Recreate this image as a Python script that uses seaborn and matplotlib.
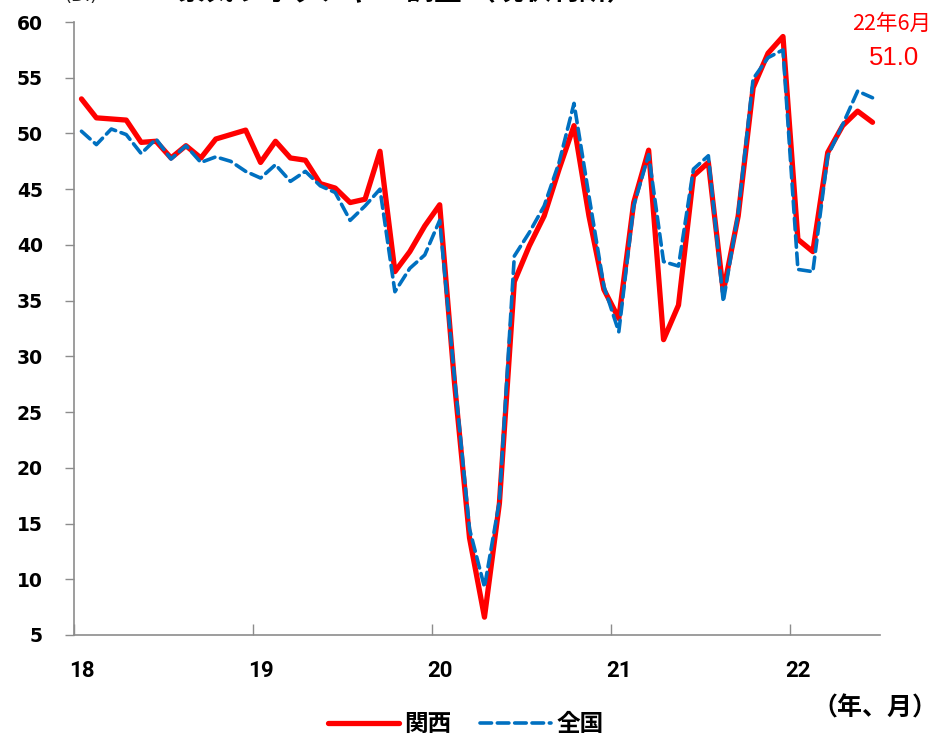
import numpy as np
import pandas as pd
import matplotlib
matplotlib.use("Agg")
import matplotlib.pyplot as plt
import seaborn as sns
from matplotlib.lines import Line2D

# ---- data (monthly, 2018-01 .. 2022-06) ----
months = pd.period_range("2018-01", "2022-06", freq="M").strftime("%Y-%m").tolist()
kansai = [53.1, 51.4, 51.3, 51.2, 49.2, 49.3, 47.8, 48.9, 47.8, 49.5, 49.9, 50.3,
          47.4, 49.3, 47.8, 47.6, 45.5, 45.1, 43.8, 44.1, 48.4, 37.6, 39.4, 41.7,
          43.6, 27.5, 13.7, 6.6, 16.8, 36.7, 39.9, 42.6, 46.8, 50.7, 42.6, 36.0,
          33.4, 43.8, 48.5, 31.5, 34.6, 46.2, 47.4, 35.8, 42.6, 54.1, 57.2, 58.7,
          40.5, 39.4, 48.3, 50.7, 52.0, 51.0]
zenkoku = [50.2, 49.0, 50.4, 49.9, 48.2, 49.5, 47.7, 48.9, 47.4, 47.9, 47.5, 46.6,
           46.0, 47.2, 45.7, 46.6, 45.3, 44.7, 42.2, 43.5, 45.0, 35.8, 37.9, 39.1,
           42.2, 28.0, 14.5, 9.3, 17.0, 39.0, 41.1, 43.5, 47.4, 52.7, 44.4, 36.3,
           32.2, 43.5, 48.1, 38.5, 38.1, 46.8, 48.0, 34.9, 42.9, 54.9, 56.8, 57.5,
           37.8, 37.6, 48.0, 50.8, 53.8, 53.2]
series_names = ["関西", "全国"]
year_labels = ["18", "19", "20", "21", "22"]
y_ticks = [5, 10, 15, 20, 25, 30, 35, 40, 45, 50, 55, 60]
last_label = "22年6月"
last_value_label = "51.0"

RED = "#FF0000"
BLUE = "#0070C0"

sns.set_theme(style="white")
plt.rcParams["font.family"] = ["DejaVu Sans", "Noto Sans CJK JP"]
plt.rcParams["text.color"] = "black"

df = pd.DataFrame({
    "idx": list(range(len(months))) * 2,
    "value": kansai + zenkoku,
    "series": [series_names[0]] * len(months) + [series_names[1]] * len(months),
})

fig = plt.figure(figsize=(9.4, 7.38), dpi=100)
ax = fig.add_axes([74 / 940, 1 - 635 / 738, 806 / 940, 613 / 738])

sns.lineplot(data=df[df.series == series_names[0]], x="idx", y="value", ax=ax,
             color=RED, linewidth=3.8, legend=False, zorder=2)
sns.lineplot(data=df[df.series == series_names[1]], x="idx", y="value", ax=ax,
             color=BLUE, linewidth=2.6, legend=False, zorder=3)
ax.lines[1].set_dashes([3.2, 1.6])
for ln in ax.lines:
    ln.set_solid_joinstyle("round")
    ln.set_dash_joinstyle("round")
    ln.set_dash_capstyle("round")

ax.set_xlim(-0.5, len(months) - 0.5)
ax.set_ylim(5, 60)
ax.set_xlabel("")
ax.set_ylabel("")

# y axis
ax.set_yticks(y_ticks)
ax.set_yticklabels([str(v) for v in y_ticks], fontweight="bold", fontsize=13.5,
                   family=["DejaVu Sans"], color="black")
ax.tick_params(axis="y", direction="out", length=6.5, width=1, color="#8C8C8C",
               pad=16, left=True)

# x axis: year ticks at boundaries, labels at January
ax.set_xticks([i * 12 for i in range(len(year_labels))])
ax.set_xticklabels(year_labels, fontweight="bold", fontsize=16,
                   family=["Roboto", "DejaVu Sans"], color="black")
ax.tick_params(axis="x", length=0, pad=18)
ax.set_xticks([i * 12 - 0.5 for i in range(len(year_labels))], minor=True)
ax.tick_params(axis="x", which="minor", direction="in", length=8, width=1,
               color="#8C8C8C", bottom=True)

for s in ["top", "right"]:
    ax.spines[s].set_visible(False)
for s in ["left", "bottom"]:
    ax.spines[s].set_color("#8C8C8C")
    ax.spines[s].set_linewidth(1.2)

# annotations
fig.text(892 / 940, 1 - 24 / 738, last_label, color=RED, fontsize=15.5,
         ha="center", va="center", family=["Noto Sans CJK JP"])
fig.text(894 / 940, 1 - 58 / 738, last_value_label, color=RED, fontsize=18.5,
         ha="center", va="center", family=["Liberation Sans"])

# clipped header (top of the original is cut)
fig.text(65 / 940, 1 + 4 / 738, "(DI)", fontsize=13, ha="left", va="center",
         color="#222222")
fig.text(178 / 940, 1 + 9 / 738, "景気ウォッチャー 調査 （現状判断）", fontsize=20,
         fontweight="bold", ha="left", va="center", family=["Noto Sans CJK JP"])

fig.text(937 / 940, 1 - 708 / 738, "（年、月）", fontsize=18, fontweight="bold",
         ha="right", va="center", family=["Noto Sans CJK JP"])

# legend
handles = [Line2D([0], [0], color=RED, lw=3.8, solid_capstyle="round"),
           Line2D([0], [0], color=BLUE, lw=2.6, dashes=[3.2, 1.6], dash_capstyle="round")]
leg = fig.legend(handles, series_names, loc="center",
                 bbox_to_anchor=(466 / 940, 1 - 724 / 738),
                 ncol=2, frameon=False, handlelength=3.0, handletextpad=0.25,
                 columnspacing=1.2, borderpad=0, borderaxespad=0,
                 prop={"family": ["Noto Sans CJK JP"], "weight": "bold", "size": 17})

fig.savefig("out.png", dpi=100)
